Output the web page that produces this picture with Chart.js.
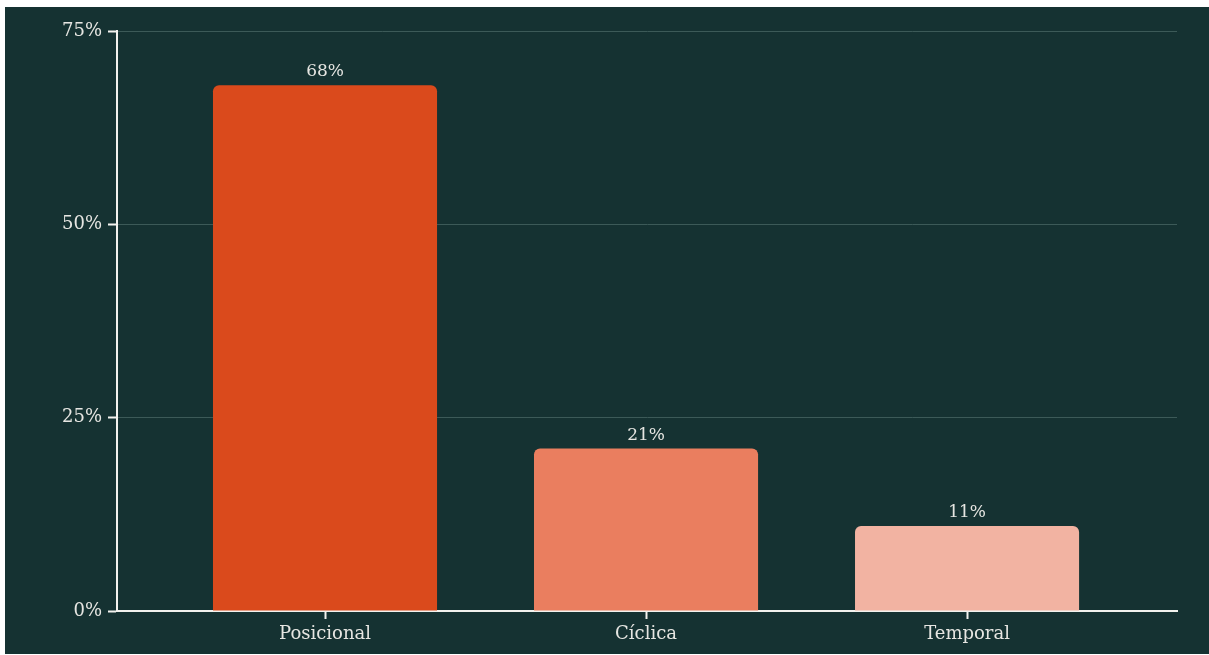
<!DOCTYPE html>
<html>
<head>
<meta charset="utf-8">
<script src="https://cdn.jsdelivr.net/npm/chart.js@4.4.1/dist/chart.umd.min.js"></script>
<style>
  html, body { margin: 0; padding: 0; background: #ffffff; }
  #frame {
    position: absolute; left: 5px; top: 7px;
    width: 1204px; height: 647px;
    background: #153232;
  }
  canvas { display: block; }
</style>
</head>
<body>
<div id="frame"><canvas id="c" width="1204" height="647"></canvas></div>
<script>
const categories = ['Posicional', 'Cíclica', 'Temporal'];
const shares = [68, 21, 11];
const barColors = ['#DA4A1C', '#EA7E5F', '#F2B3A2'];
const yTicks = [0, 25, 50, 75];

const FONT = '"DejaVu Serif", serif';
const TEXT = '#e6e6e2';
const AXIS = '#f2f2ee';

// bars sit on a numeric band axis so the axis line can run past the outer bands
const points = shares.map((v, i) => ({ x: i, y: v }));

const valueLabels = {
  id: 'valueLabels',
  afterDatasetsDraw(chart) {
    const ctx = chart.ctx;
    const meta = chart.getDatasetMeta(0);
    ctx.save();
    ctx.font = '17px ' + FONT;
    ctx.fillStyle = TEXT;
    ctx.textAlign = 'center';
    ctx.textBaseline = 'bottom';
    meta.data.forEach((bar, i) => {
      ctx.fillText(shares[i] + '%', bar.x, bar.y - 5);
    });
    ctx.restore();
  }
};

new Chart(document.getElementById('c'), {
  type: 'bar',
  data: {
    datasets: [{
      data: points,
      backgroundColor: barColors,
      borderRadius: { topLeft: 6, topRight: 6 },
      borderSkipped: 'bottom',
      barPercentage: 1,
      categoryPercentage: 0.698
    }]
  },
  options: {
    responsive: false,
    animation: false,
    layout: { padding: { left: 0, right: 32, top: 24, bottom: 0 } },
    plugins: { legend: { display: false }, tooltip: { enabled: false } },
    scales: {
      x: {
        type: 'linear',
        offset: false,
        min: -0.648, max: 2.654,
        afterBuildTicks(scale) { scale.ticks = categories.map((c, i) => ({ value: i })); },
        grid: { display: true, offset: false, drawOnChartArea: false, tickLength: 8, tickColor: AXIS, tickWidth: 2 },
        border: { color: AXIS, width: 2 },
        ticks: {
          color: TEXT, font: { family: FONT, size: 18 }, padding: 5,
          callback: v => categories[v]
        },
        afterFit(scale) { scale.height = 43; }
      },
      y: {
        min: 0, max: 75,
        afterBuildTicks(scale) { scale.ticks = yTicks.map(v => ({ value: v })); },
        grid: { color: '#3c5a58', lineWidth: 1, tickLength: 9, tickColor: AXIS, tickWidth: 2 },
        border: { color: AXIS, width: 2 },
        ticks: {
          color: TEXT, font: { family: FONT, size: 18 }, padding: 6,
          callback: v => v + '%'
        },
        afterFit(scale) { scale.width = 112; }
      }
    }
  },
  plugins: [valueLabels]
});
</script>
</body>
</html>
